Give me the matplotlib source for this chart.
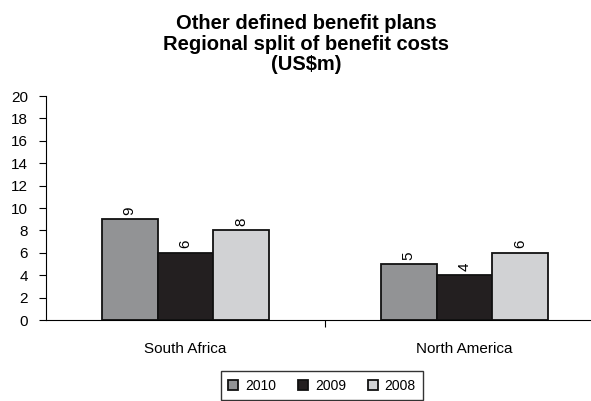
import numpy as np
import matplotlib.pyplot as plt

regions = ['South Africa', 'North America']
years = ['2010', '2009', '2008']
v2010 = [9, 5]
v2009 = [6, 4]
v2008 = [8, 6]
colors = ['#929395', '#231f20', '#d1d2d4']

plt.rcParams['font.family'] = ['Liberation Sans', 'DejaVu Sans']

fig = plt.figure(figsize=(5.91, 4.01), dpi=100)
ax = fig.add_axes([46/591, 81/401, 558/591, 224/401])

x = np.arange(len(regions))
w = 0.2
for i, (vals, c, yr) in enumerate(zip([v2010, v2009, v2008], colors, years)):
    pos = x + (i - 1) * w
    ax.bar(pos, vals, w, color=c, edgecolor='#111111', linewidth=1.3, label=yr)
    for p, v in zip(pos, vals):
        ax.text(p, v + 0.4, str(v), rotation=90, ha='center', va='bottom', fontsize=11)

ax.set_xlim(-0.5, 1.5)
ax.set_ylim(0, 20)
ax.set_yticks(range(0, 21, 2))
ax.set_xticks([0.5])
ax.set_xticklabels([''])
ax.tick_params(axis='x', direction='out', length=5)
ax.tick_params(axis='y', direction='out', length=5, labelsize=11, pad=8)
for i, r in enumerate(regions):
    ax.text(i, -2.0, r, ha='center', va='top', fontsize=11)
ax.spines['top'].set_visible(False)
ax.spines['right'].set_visible(False)

fig.suptitle('Other defined benefit plans\nRegional split of benefit costs\n(US$m)',
             x=306/591, fontsize=14.5, fontweight='bold', y=1 - 14/401, linespacing=1.1)

leg = fig.legend(loc='upper center', bbox_to_anchor=(322/591, 1 - 371/401), ncol=3,
                 frameon=True, fancybox=False, edgecolor='black', fontsize=10,
                 handlelength=0.7, handleheight=0.7, handletextpad=0.5,
                 columnspacing=1.6, borderpad=0.55, borderaxespad=0)
leg.get_frame().set_linewidth(1.0)

fig.savefig('out.png', dpi=100)
